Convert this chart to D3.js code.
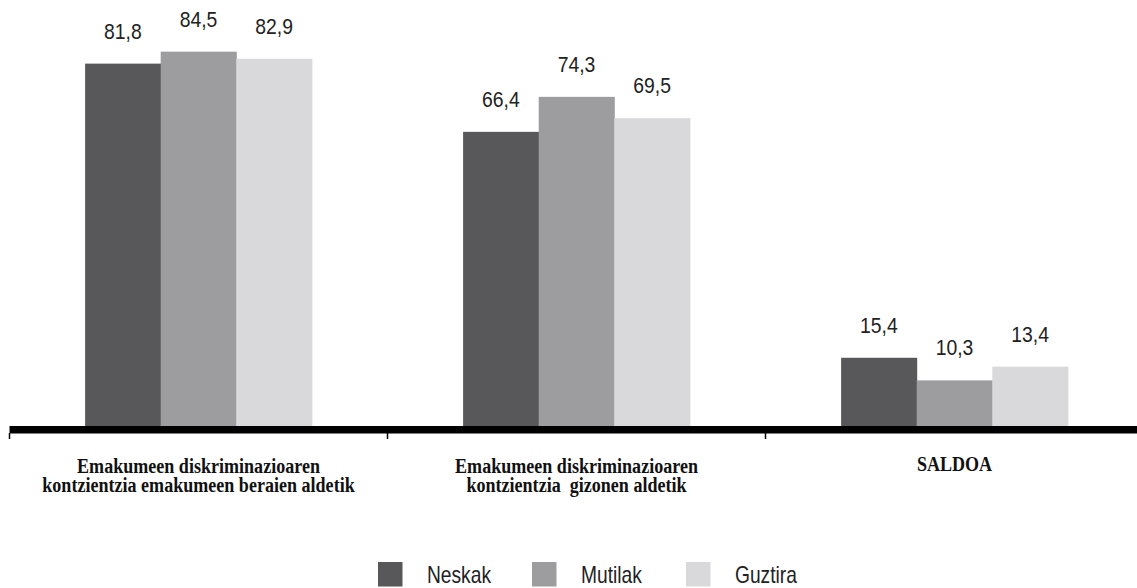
<!DOCTYPE html>
<html>
<head>
    <title>Emakumeen diskriminazioaren kontzientzia</title>
    <script src="https://d3js.org/d3.v7.min.js"></script>
    <style>
        body { margin: 0; background: #fff; }
        .value { font-family: "Liberation Sans", Arial, sans-serif; font-size: 22px; fill: #222; }
        .cat { font-family: "Liberation Serif", "Times New Roman", serif; font-weight: bold; font-size: 21px; fill: #111; }
        .legend-text { font-family: "Liberation Sans", Arial, sans-serif; font-size: 24px; fill: #222; }
    </style>
</head>
<body>
    <div id="chart"></div>
    <script>
	const categories = [
	    ['Emakumeen diskriminazioaren', 'kontzientzia emakumeen beraien aldetik'],
	    ['Emakumeen diskriminazioaren', 'kontzientzia  gizonen aldetik'],
	    ['SALDOA']
	];
	const series = ['Neskak', 'Mutilak', 'Guztira'];
	const neskak = [81.8, 66.4, 15.4];
	const mutilak = [84.5, 74.3, 10.3];
	const guztira = [82.9, 69.5, 13.4];
	const colors = ['#58585a', '#9d9d9f', '#d9d9db'];

	const width = 1137, height = 588;
	const values = [neskak, mutilak, guztira];
	const catIdx = categories.map((d, i) => i);

	const svg = d3.select("#chart").append("svg")
	    .attr("width", width)
	    .attr("height", height);

	const x0 = d3.scaleBand()
	    .domain(catIdx)
	    .range([9.5, 1143.5])
	    .padding(0);

	const x1 = d3.scaleBand()
	    .domain(series)
	    .range([0, x0.bandwidth()])
	    .paddingInner(0)
	    .paddingOuter(1);

	const y = d3.scaleLinear()
	    .domain([0, 100])
	    .range([426, -17]);

	const color = d3.scaleOrdinal().domain(series).range(colors);

	const groups = svg.append("g")
	    .selectAll("g")
	    .data(catIdx)
	    .enter().append("g")
	        .attr("transform", d => `translate(${x0(d)},0)`);

	const cells = groups.selectAll("g")
	    .data(c => series.map((s, j) => ({type: s, value: values[j][c]})))
	    .enter().append("g");

	cells.append("rect")
	    .attr("x", d => x1(d.type))
	    .attr("y", d => y(d.value))
	    .attr("width", x1.bandwidth() + 0.5)
	    .attr("height", d => y(0) - y(d.value))
	    .attr("fill", d => color(d.type));

	// condensed look: plain sans squeezed horizontally
	cells.append("text")
	    .attr("class", "value")
	    .attr("text-anchor", "middle")
	    .attr("transform", d => `translate(${x1(d.type) + x1.bandwidth() / 2},${y(d.value) - 25}) scale(0.88,1)`)
	    .text(d => d3.format(".1f")(d.value).replace(".", ","));

	// thick baseline
	svg.append("rect")
	    .attr("x", x0.range()[0])
	    .attr("y", y(0))
	    .attr("width", x0.range()[1] - x0.range()[0])
	    .attr("height", 7.5)
	    .attr("fill", "#000");

	// ticks at band boundaries
	const bounds = catIdx.map(d => x0(d)).concat([x0.range()[1]]);
	svg.append("g")
	    .selectAll("line")
	    .data(bounds)
	    .enter().append("line")
	        .attr("x1", d => d)
	        .attr("x2", d => d)
	        .attr("y1", y(0) + 7)
	        .attr("y2", y(0) + 13)
	        .attr("stroke", "#000")
	        .attr("stroke-width", 1.5);

	// category labels, one text per line
	groups.each(function(c) {
	    d3.select(this).selectAll("text.cat")
	        .data(categories[c])
	        .enter().append("text")
	            .attr("class", "cat")
	            .attr("text-anchor", "middle")
	            .attr("transform", (d, i) => `translate(${x0.bandwidth() / 2},${(categories[c].length > 1 ? 473 : 471) + i * 18.7}) scale(0.86,1)`)
	            .style("white-space", "pre")
	            .text(d => d);
	});

	// legend
	const legend = svg.append("g")
	    .selectAll("g")
	    .data(series)
	    .enter().append("g")
	        .attr("transform", (d, i) => `translate(${378 + i * 154},562)`);

	legend.append("rect")
	    .attr("width", 24.5)
	    .attr("height", 24.5)
	    .attr("fill", d => color(d));

	legend.append("text")
	    .attr("class", "legend-text")
	    .attr("transform", "translate(49,20.5) scale(0.8,1)")
	    .text(d => d);
	</script>
</body>
</html>
